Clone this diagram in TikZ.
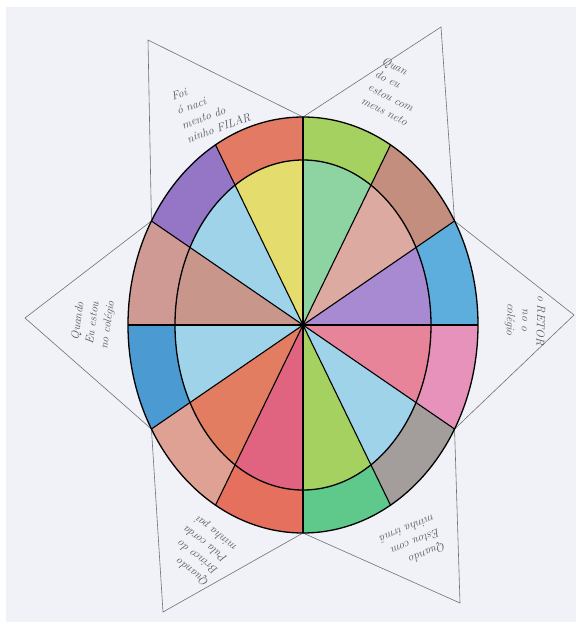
\documentclass[tikz,border=0pt]{standalone}
\usepackage{fontspec}
\usetikzlibrary{calc}
\begin{document}
\begin{tikzpicture}[x=1pt,y=1pt]
    \def\outrx{175}
    \def\outry{208}
    \def\inrx{128}
    \def\inry{165}

    \definecolor{paper}{HTML}{F0F2F8}
    \definecolor{pencil}{HTML}{707076}
    \definecolor{ink}{HTML}{55555E}
    \definecolor{lime}{HTML}{A4D160}
    \definecolor{mint}{HTML}{8ED4A2}
    \definecolor{clay}{HTML}{C48E7E}
    \definecolor{blush}{HTML}{DDAAA1}
    \definecolor{sky}{HTML}{5DAEDC}
    \definecolor{lilac}{HTML}{A88AD2}
    \definecolor{rose}{HTML}{E692BA}
    \definecolor{coral}{HTML}{E8849A}
    \definecolor{stone}{HTML}{A39E9C}
    \definecolor{ice}{HTML}{9ED3EA}
    \definecolor{jade}{HTML}{5EC98B}
    \definecolor{tomato}{HTML}{E6705E}
    \definecolor{cherry}{HTML}{E0647F}
    \definecolor{salmon}{HTML}{DEA194}
    \definecolor{rust}{HTML}{E27D62}
    \definecolor{ocean}{HTML}{4B9AD2}
    \definecolor{dustrose}{HTML}{D09A94}
    \definecolor{cocoa}{HTML}{C9968C}
    \definecolor{violet}{HTML}{9575C6}
    \definecolor{brick}{HTML}{E27A64}
    \definecolor{lemon}{HTML}{E4DD6E}

    \tikzset{
      rim/.style={
        draw=black,
        line width=1.3pt
      },
      spoke/.style={
        draw=black,
        line width=1.1pt
      },
      starline/.style={
        draw=pencil,
        line width=0.6pt,
        line join=miter
      },
      note/.style={
        font=\itshape\fontsize{11.5}{15}\selectfont,
        text=ink,
        align=left,
        inner sep=1pt
      }
    }

    % paper
    \fill[white] (-303,-297) rectangle (273,325);
    \fill[paper] (-297,-297) rectangle (273,318);
    \useasboundingbox (-303,-297) rectangle (273,325);

    % star points
    \coordinate (c30)  at (30:{\outrx} and {\outry});
    \coordinate (c90)  at (90:{\outrx} and {\outry});
    \coordinate (c150) at (150:{\outrx} and {\outry});
    \coordinate (c210) at (210:{\outrx} and {\outry});
    \coordinate (c270) at (270:{\outrx} and {\outry});
    \coordinate (c330) at (330:{\outrx} and {\outry});
    \coordinate (tipTL) at (-155,285);
    \coordinate (tipTR) at (138,298);
    \coordinate (tipR)  at (271,10);
    \coordinate (tipBR) at (157,-278);
    \coordinate (tipBL) at (-140,-287);
    \coordinate (tipL)  at (-278,7);

    \draw[starline] (c90) -- (tipTL) -- (c150) -- (tipL) -- (c210) -- (tipBL)
      -- (c270) -- (tipBR) -- (c330) -- (tipR) -- (c30) -- (tipTR) -- cycle;

    % outer ring
    \foreach \a/\outc in {60/lime, 30/clay, 0/sky, -30/rose, -60/stone, -90/jade,
      -120/tomato, -150/salmon, 180/ocean, 150/dustrose, 120/violet, 90/brick} {
      \fill[\outc] (0,0) -- (\a:{\outrx} and {\outry})
        arc[start angle=\a, end angle=\a+30, x radius=\outrx, y radius=\outry] -- cycle;
    }

    % inner disc
    \begin{scope}
      \clip (0,0) ellipse [x radius=\inrx, y radius=\inry];
      \foreach \a/\inc in {60/mint, 30/blush, 0/lilac, -30/coral, -60/ice, -90/lime,
        -120/cherry, -150/rust, 180/ice, 150/cocoa, 120/ice, 90/lemon} {
        \fill[\inc] (0,0) -- (\a:{\outrx} and {\outry})
          arc[start angle=\a, end angle=\a+30, x radius=\outrx, y radius=\outry] -- cycle;
      }
    \end{scope}

    \foreach \a in {0,30,...,150} {
      \draw[spoke] (\a:{\outrx} and {\outry}) -- ({\a+180}:{\outrx} and {\outry});
    }
    \draw[rim] (0,0) ellipse [x radius=\inrx, y radius=\inry];
    \draw[rim] (0,0) ellipse [x radius=\outrx, y radius=\outry];

    % notes
    \node[note, rotate=20] (noteTL) at (-92,218) {Foi\\ó naci\\mento do\\ninho FILAR};
    \node[note, rotate=-27] (noteTR) at (92,234) {Quan\\do eu\\estou com\\meus neto};
    \node[note, rotate=-92, align=center] (noteR) at (222,5) {o RETOR\\no o\\colégio};
    \node[note, rotate=82, align=center] (noteL) at (-210,2) {Quando\\Eu estou\\no colégio};
    \node[note, rotate=142] (noteBL) at (-102,-225) {Quando\\Brinco do\\Pula corda\\minha pai};
    \node[note, rotate=202] (noteBR) at (110,-218) {Quando\\Estou com\\minha irmã};
  \end{tikzpicture}
\end{document}
